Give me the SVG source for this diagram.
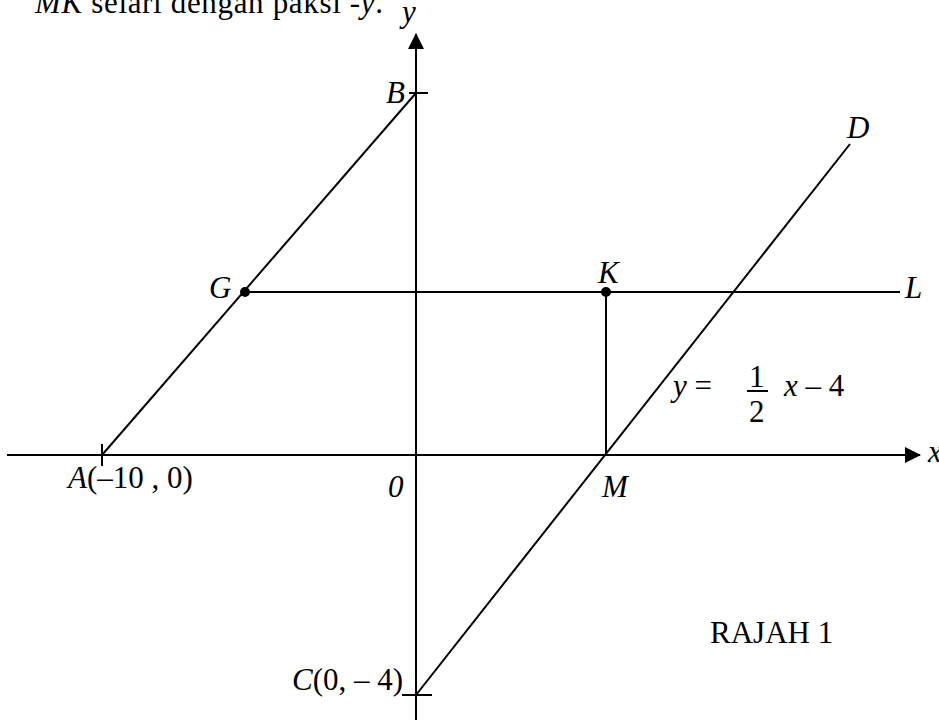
<svg xmlns="http://www.w3.org/2000/svg" width="939" height="721" viewBox="0 0 939 721">
<style>
.t{font-family:"Liberation Serif","Times New Roman",serif;font-size:31px;fill:#000}
.i{font-style:italic}
.ln{stroke:#000;stroke-width:2;fill:none}
</style>
<defs>
<marker id="arr" viewBox="0 0 16 16" refX="15" refY="8" markerWidth="16" markerHeight="16" markerUnits="userSpaceOnUse" orient="auto">
<path d="M0,0 L16,8 L0,16 Z" fill="#000"/>
</marker>
</defs>
<rect width="939" height="721" fill="#fff"/>
<text class="t" x="35" y="13" textLength="348"><tspan class="i">MK</tspan> selari dengan paksi -<tspan class="i">y</tspan>.</text>
<g id="connectors">
<line class="ln" x1="416" y1="720" x2="416" y2="34" marker-end="url(#arr)"/>
<line class="ln" x1="7" y1="455" x2="920" y2="455" marker-end="url(#arr)"/>
<line class="ln" x1="102" y1="455" x2="416" y2="93"/>
<line class="ln" x1="416" y1="695" x2="850" y2="144"/>
<line class="ln" x1="245" y1="292" x2="900" y2="292"/>
<line class="ln" x1="606" y1="292" x2="606" y2="455"/>
<line class="ln" x1="409" y1="93" x2="428" y2="93"/>
<line class="ln" x1="402" y1="695" x2="432" y2="695"/>
<line class="ln" x1="102" y1="444" x2="102" y2="466"/>
</g>
<g id="axis-y"><text class="t i" x="402" y="22">y</text></g>
<g id="axis-x"><text class="t i" x="928" y="462">x</text></g>
<g id="origin"><text class="t i" x="388" y="497">0</text></g>
<g id="B"><text class="t i" x="386" y="103">B</text></g>
<g id="A"><text class="t" x="68" y="488"><tspan class="i">A</tspan>(–10 , 0)</text></g>
<g id="C"><text class="t" x="292" y="690"><tspan class="i">C</tspan>(0, – 4)</text></g>
<g id="G"><circle cx="245" cy="292" r="5"/><text class="t i" x="209" y="298">G</text></g>
<g id="K"><circle cx="606" cy="292" r="5"/><text class="t i" x="598" y="283">K</text></g>
<g id="L"><text class="t i" x="905" y="298">L</text></g>
<g id="D"><text class="t i" x="847" y="138">D</text></g>
<g id="M"><text class="t i" x="602" y="497">M</text></g>
<g id="equation">
<text class="t" x="673" y="396"><tspan class="i">y</tspan> =</text>
<text class="t" x="749" y="387">1</text>
<line class="ln" x1="747" y1="391" x2="768" y2="391"/>
<text class="t" x="749" y="422">2</text>
<text class="t" x="784" y="396"><tspan class="i">x</tspan> – 4</text>
</g>
<g id="caption"><text class="t" x="710" y="643">RAJAH 1</text></g>
</svg>
